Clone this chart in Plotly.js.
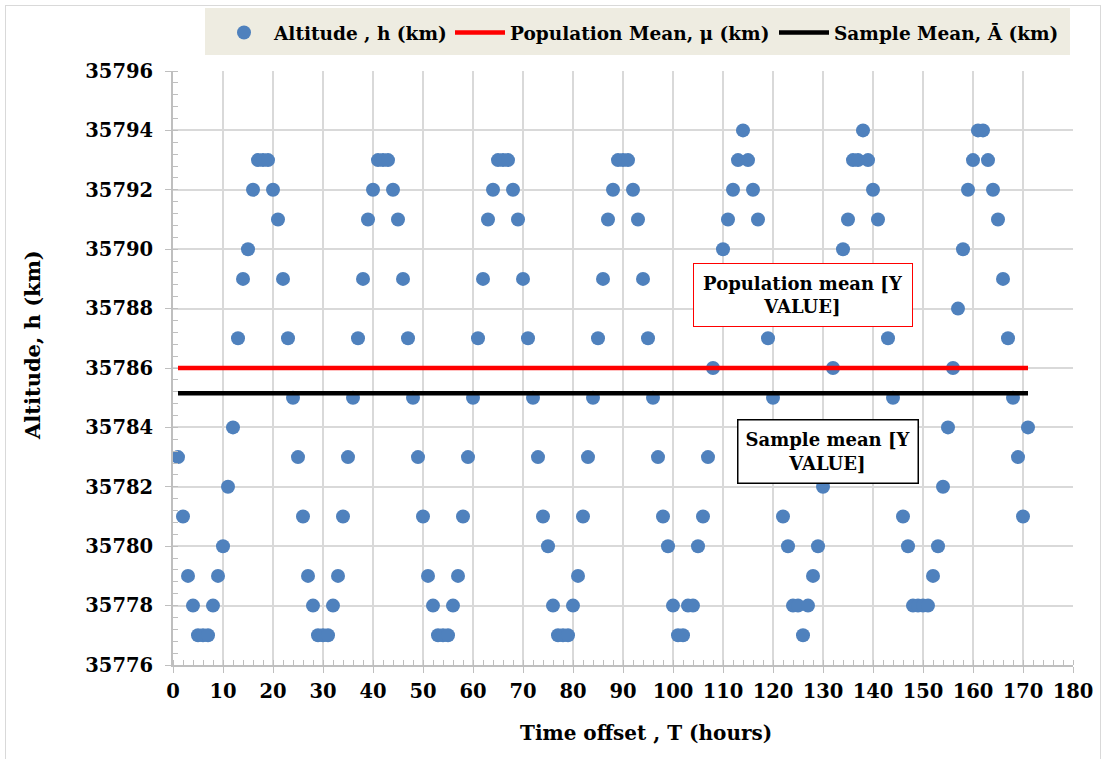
<!DOCTYPE html>
<html>
<head>
<meta charset="utf-8">
<script src="https://cdn.plot.ly/plotly-3.0.1.min.js"></script>
<style>
  html, body { margin: 0; padding: 0; background: #ffffff; }
  #wrap { position: relative; width: 1105px; height: 759px; overflow: hidden; }
  #chart { position: absolute; left: 0; top: 0; width: 1105px; height: 759px; }
  #frame { position: absolute; left: 5px; top: 5px; width: 1094px; height: 770px; border: 1px solid #d9d9d9; pointer-events: none; }
</style>
</head>
<body>
<div id="wrap">
  <div id="chart"></div>
  <div id="frame"></div>
</div>
<script>
// ---- data ----
const timeHours = [
  1,2,3,4,5,6,7,8,9,10,11,12,13,14,15,16,17,18,19,20,
  21,22,23,24,25,26,27,28,29,30,31,32,33,34,35,36,37,38,39,40,
  41,42,43,44,45,46,47,48,49,50,51,52,53,54,55,56,57,58,59,60,
  61,62,63,64,65,66,67,68,69,70,71,72,73,74,75,76,77,78,79,80,
  81,82,83,84,85,86,87,88,89,90,91,92,93,94,95,96,97,98,99,100,
  101,102,103,104,105,106,107,108,109,110,111,112,113,114,115,116,117,118,119,120,
  121,122,123,124,125,126,127,128,129,130,131,132,133,134,135,136,137,138,139,140,
  141,142,143,144,145,146,147,148,149,150,151,152,153,154,155,156,157,158,159,160,
  161,162,163,164,165,166,167,168,169,170,171
];
const altitudeKm = [
  35783,35781,35779,35778,35777,35777,35777,35778,35779,35780,35782,35784,35787,35789,35790,35792,35793,35793,35793,35792,
  35791,35789,35787,35785,35783,35781,35779,35778,35777,35777,35777,35778,35779,35781,35783,35785,35787,35789,35791,35792,
  35793,35793,35793,35792,35791,35789,35787,35785,35783,35781,35779,35778,35777,35777,35777,35778,35779,35781,35783,35785,
  35787,35789,35791,35792,35793,35793,35793,35792,35791,35789,35787,35785,35783,35781,35780,35778,35777,35777,35777,35778,
  35779,35781,35783,35785,35787,35789,35791,35792,35793,35793,35793,35792,35791,35789,35787,35785,35783,35781,35780,35778,
  35777,35777,35778,35778,35780,35781,35783,35786,35788,35790,35791,35792,35793,35794,35793,35792,35791,35789,35787,35785,
  35783,35781,35780,35778,35778,35777,35778,35779,35780,35782,35784,35786,35788,35790,35791,35793,35793,35794,35793,35792,
  35791,35789,35787,35785,35783,35781,35780,35778,35778,35778,35778,35779,35780,35782,35784,35786,35788,35790,35792,35793,
  35794,35794,35793,35792,35791,35789,35787,35785,35783,35781,35784
];
const meanSpanHours = [1, 171];
const populationMean = 35786;
const sampleMean = 35785.15;
const seriesNames = ["Altitude , h (km)", "Population Mean, \u03bc (km)", "Sample Mean, \u0100 (km)"];
const xTitle = "Time offset , T (hours)";
const yTitle = "Altitude, h (km)";
const popLabel = "Population mean [Y<br>VALUE]";
const sampleLabel = "Sample mean [Y<br>VALUE]";

// ---- chart ----
const FONT = "DejaVu Serif";
const bold = (size, color) => ({family: FONT, size: size, color: color || "#000000", weight: "bold"});

const traces = [
  {
    type: "scatter", mode: "markers", name: seriesNames[0],
    x: timeHours, y: altitudeKm,
    marker: {color: "#4f81bd", size: 14, line: {width: 0}},
    legend: "legend"
  },
  {
    type: "scatter", mode: "lines", name: seriesNames[1],
    x: meanSpanHours, y: meanSpanHours.map(() => populationMean),
    line: {color: "#ff0000", width: 4.5},
    legend: "legend2"
  },
  {
    type: "scatter", mode: "lines", name: seriesNames[2],
    x: meanSpanHours, y: meanSpanHours.map(() => sampleMean),
    line: {color: "#000000", width: 4.5},
    legend: "legend3"
  }
];

const L = 173, R = 1073, T = 71, B = 665;
const px2x = p => (p - L) / (R - L);
const py2y = p => 1 + (T - p) / (B - T);

const legendCommon = {
  orientation: "h", xanchor: "left", yanchor: "middle",
  bgcolor: "rgba(0,0,0,0)", borderwidth: 0,
  font: bold(18.5), itemwidth: 50, y: py2y(33)
};

const layout = {
  width: 1105, height: 759,
  margin: {l: L, r: 1105 - R, t: T, b: 759 - B, pad: 0},
  paper_bgcolor: "#ffffff", plot_bgcolor: "#ffffff",
  font: bold(18),
  showlegend: true,
  legend: Object.assign({}, legendCommon, {x: px2x(214)}),
  legend2: Object.assign({}, legendCommon, {x: px2x(450)}),
  legend3: Object.assign({}, legendCommon, {x: px2x(774)}),
  xaxis: {
    range: [0, 180], dtick: 10, tick0: 0,
    showgrid: true, gridcolor: "#d9d9d9", gridwidth: 2,
    showline: true, linecolor: "#bfbfbf", linewidth: 2,
    ticks: "outside", ticklen: 6, tickcolor: "#bfbfbf", tickwidth: 1,
    minor: {dtick: 2, ticks: "inside", ticklen: 5, tickcolor: "#bfbfbf", showgrid: false},
    tickfont: bold(19.5), zeroline: false, ticklabelstandoff: 2
  },
  yaxis: {
    range: [35776, 35796], dtick: 2, tick0: 35776,
    showgrid: true, gridcolor: "#d9d9d9", gridwidth: 2,
    showline: true, linecolor: "#bfbfbf", linewidth: 2,
    ticks: "outside", ticklen: 6, tickcolor: "#bfbfbf", tickwidth: 1,
    minor: {dtick: 0.4, ticks: "inside", ticklen: 5, tickcolor: "#bfbfbf", showgrid: false},
    tickfont: bold(19.5), zeroline: false, tickformat: "d", ticklabelstandoff: 8
  },
  shapes: [
    {type: "rect", xref: "paper", yref: "paper", layer: "below",
     x0: px2x(205), x1: px2x(1070), y0: py2y(55), y1: py2y(8),
     fillcolor: "#eeece1", line: {width: 0}}
  ],
  annotations: [
    {xref: "paper", yref: "paper", x: px2x(645.5), y: py2y(733), text: xTitle, showarrow: false,
     font: bold(20), xanchor: "center", yanchor: "middle"},
    {xref: "paper", yref: "paper", x: px2x(32), y: py2y(345), text: yTitle, showarrow: false,
     font: bold(21), textangle: -90, xanchor: "center", yanchor: "middle"},
    {xref: "x", yref: "y", x: 126, y: 35788.47, text: popLabel, showarrow: false,
     font: bold(18), align: "center", bgcolor: "#ffffff", bordercolor: "#ff0000", borderwidth: 1,
     width: 214, height: 58, borderpad: 2, xanchor: "center", yanchor: "middle"},
    {xref: "x", yref: "y", x: 130.9, y: 35783.2, text: sampleLabel, showarrow: false,
     font: bold(18), align: "center", bgcolor: "#ffffff", bordercolor: "#000000", borderwidth: 1.5,
     width: 175, height: 58, borderpad: 2, xanchor: "center", yanchor: "middle"}
  ]
};

Plotly.newPlot("chart", traces, layout, {displayModeBar: false, staticPlot: true});
</script>
</body>
</html>
